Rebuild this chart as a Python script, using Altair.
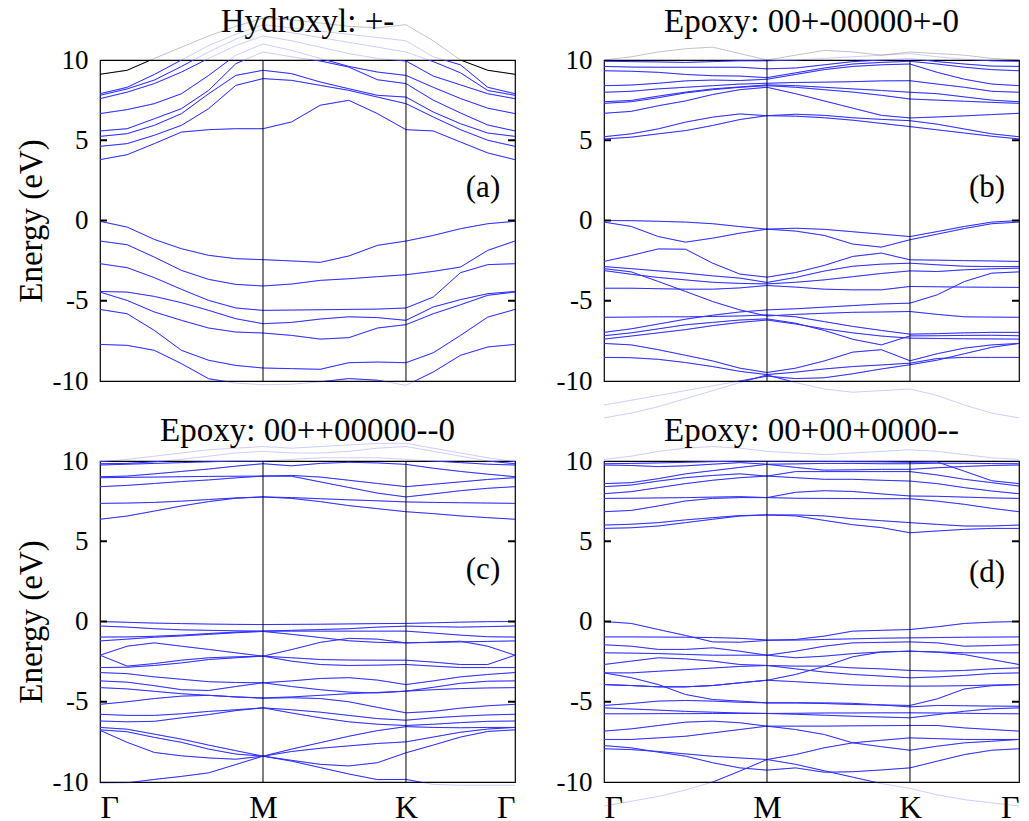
import altair as alt
import pandas as pd
import numpy as np

# ---------------- k-path ----------------
K_LABELS = ["Γ", "M", "K", "Γ"]
K_POS = [0.0, 0.3928, 0.7373, 1.0]
SEGMENTS = [6, 5, 4]          # k-point intervals on Γ-M, M-K, K-Γ
Y_TICKS = [10, 5, 0, -5, -10]
INNER_TICKS = [5, 0, -5]

# ---------------- (a) Hydroxyl: +- ----------------
A_TITLE = "Hydroxyl: +-"
A_CB = [
    [3.79, 4.10, 4.79, 5.51, 5.66, 5.72, 5.72, 6.14, 7.18, 7.49, 6.66, 5.66, 5.58, 4.89, 4.21, 3.79],
    [4.62, 4.79, 5.31, 5.93, 6.97, 8.42, 8.84, 8.73, 8.42, 8.11, 7.69, 7.28, 6.45, 5.66, 5.00, 4.62],
    [5.24, 5.41, 5.93, 6.66, 7.90, 9.04, 9.36, 9.15, 8.63, 8.21, 7.80, 7.69, 6.76, 6.03, 5.45, 5.24],
    [5.58, 5.72, 6.34, 6.97, 8.11, 9.77, 10.5, 10.2, 9.94, 9.56, 8.77, 8.53, 7.50, 6.70, 5.95, 5.58],
    [6.66, 6.91, 7.28, 7.90, 9.04, 10.3, 11.0, 10.6, 10.1, 9.60, 9.25, 9.04, 8.30, 7.60, 7.00, 6.66],
    [7.59, 8.00, 8.53, 9.25, 10.1, 10.9, 11.5, 11.2, 10.8, 10.4, 10.1, 9.94, 9.00, 8.45, 7.90, 7.59],
    [7.80, 8.20, 8.75, 9.60, 10.5, 11.3, 11.95, 11.7, 11.4, 11.1, 10.8, 10.5, 9.90, 9.20, 8.10, 7.80],
    [7.90, 8.30, 9.10, 10.0, 10.9, 11.6, 12.2, 12.0, 11.8, 11.6, 11.4, 11.2, 10.2, 9.70, 8.30, 7.90],
    [9.11, 9.36, 10.1, 10.8, 11.5, 12.1, 12.6, 12.5, 12.3, 12.1, 12.0, 12.2, 11.2, 10.0, 9.36, 9.11],
]
A_VB = [
    [-0.05, -0.41, -1.18, -1.76, -2.17, -2.38, -2.44, -2.52, -2.61, -2.21, -1.55, -1.28, -0.93, -0.51, -0.20, -0.05],
    [-1.28, -1.51, -2.28, -3.11, -3.67, -3.98, -4.08, -3.96, -3.73, -3.63, -3.50, -3.38, -3.17, -2.90, -1.86, -1.28],
    [-2.69, -2.94, -3.56, -4.29, -4.98, -5.45, -5.60, -5.58, -5.56, -5.54, -5.52, -5.45, -4.77, -3.25, -2.75, -2.69],
    [-4.42, -4.46, -4.73, -5.12, -5.60, -6.12, -6.43, -6.35, -6.14, -6.00, -6.05, -6.22, -5.39, -4.93, -4.56, -4.42],
    [-4.46, -4.98, -5.70, -6.22, -6.70, -6.95, -7.01, -7.16, -7.39, -7.30, -6.70, -6.49, -5.81, -5.25, -4.66, -4.46],
    [-5.54, -5.81, -6.85, -8.09, -8.71, -9.03, -9.19, -9.23, -9.27, -8.86, -8.82, -8.86, -8.24, -7.16, -6.02, -5.54],
    [-7.72, -7.78, -8.09, -8.92, -9.86, -10.13, -10.23, -10.2, -10.05, -9.85, -9.95, -10.27, -9.44, -8.40, -7.88, -7.72],
]
A_BLACK = [8]   # index into A_CB + A_VB drawn in black

# ---------------- (b) Epoxy: 00+-00000+-0 ----------------
B_TITLE = "Epoxy: 00+-00000+-0"
B_CB = [
    [5.08, 5.19, 5.40, 5.60, 5.92, 6.29, 6.53, 6.50, 6.40, 6.25, 6.05, 5.85, 5.65, 5.45, 5.25, 5.08],
    [5.22, 5.40, 5.71, 6.13, 6.44, 6.64, 6.53, 6.62, 6.55, 6.40, 6.30, 6.22, 6.00, 5.70, 5.40, 5.22],
    [6.68, 6.80, 7.15, 7.45, 7.85, 8.15, 8.30, 7.90, 7.45, 7.00, 6.55, 6.39, 6.45, 6.52, 6.60, 6.68],
    [7.30, 7.40, 7.65, 7.95, 8.15, 8.30, 8.40, 8.30, 8.15, 8.00, 7.80, 7.57, 7.50, 7.43, 7.36, 7.30],
    [7.40, 7.48, 7.75, 8.00, 8.20, 8.32, 8.45, 8.40, 8.30, 8.20, 8.10, 7.99, 7.90, 7.70, 7.50, 7.40],
    [7.99, 8.05, 8.20, 8.30, 8.40, 8.50, 8.55, 8.60, 8.62, 8.65, 8.70, 8.71, 8.50, 8.30, 8.05, 7.99],
    [8.40, 8.44, 8.55, 8.70, 8.75, 8.72, 8.80, 9.10, 9.40, 9.60, 9.70, 9.75, 9.23, 8.80, 8.50, 8.40],
    [9.33, 9.30, 9.23, 9.10, 9.02, 9.00, 8.90, 9.20, 9.50, 9.75, 9.85, 9.92, 9.75, 9.55, 9.40, 9.33],
    [9.60, 9.56, 9.55, 9.55, 9.55, 9.55, 9.45, 9.50, 9.70, 9.90, 10.0, 10.1, 9.90, 9.75, 9.62, 9.60],
    [9.92, 9.90, 9.88, 9.85, 9.90, 9.95, 9.95, 10.0, 10.1, 10.2, 10.3, 10.4, 10.2, 10.05, 9.95, 9.92],
    [10.0, 10.2, 10.5, 10.7, 10.8, 10.4, 10.0, 10.3, 10.6, 10.5, 10.3, 10.5, 10.4, 10.3, 10.1, 10.0],
]
B_VB = [
    [0.00, -0.01, -0.05, -0.10, -0.20, -0.38, -0.54, -0.48, -0.55, -0.70, -0.85, -1.00, -0.69, -0.37, -0.10, 0.00],
    [-0.10, -0.37, -1.00, -1.35, -1.10, -0.79, -0.54, -0.66, -0.93, -1.47, -1.66, -1.20, -0.85, -0.50, -0.20, -0.10],
    [-2.55, -2.18, -1.77, -1.79, -2.66, -3.34, -3.53, -3.24, -2.80, -2.24, -2.03, -2.45, -2.47, -2.50, -2.52, -2.55],
    [-2.87, -3.00, -3.14, -3.28, -3.45, -3.59, -3.86, -3.55, -3.15, -2.85, -2.72, -2.66, -2.76, -2.85, -2.87, -2.87],
    [-3.00, -3.20, -3.80, -4.42, -5.05, -5.57, -5.95, -5.85, -5.78, -5.72, -5.70, -5.67, -5.85, -6.00, -6.02, -6.03],
    [-3.12, -3.35, -3.55, -3.70, -3.85, -3.92, -3.95, -3.85, -3.70, -3.50, -3.30, -3.14, -3.18, -3.07, -3.01, -2.97],
    [-4.22, -4.22, -4.25, -4.28, -4.28, -4.20, -4.05, -4.15, -4.28, -4.32, -4.32, -4.11, -4.13, -4.15, -4.16, -4.17],
    [-6.03, -6.02, -6.00, -6.00, -5.98, -5.95, -5.88, -6.00, -6.30, -6.60, -6.85, -7.08, -7.05, -7.00, -6.97, -6.97],
    [-6.97, -6.75, -6.45, -6.15, -5.90, -5.70, -5.57, -5.50, -5.40, -5.30, -5.20, -5.15, -4.63, -3.80, -3.28, -3.20],
    [-7.18, -7.00, -6.75, -6.50, -6.35, -6.20, -6.13, -6.40, -6.85, -7.40, -7.75, -7.19, -7.18, -7.16, -7.15, -7.18],
    [-7.39, -7.20, -7.00, -6.80, -6.55, -6.35, -6.20, -6.45, -6.75, -7.00, -7.20, -7.33, -7.35, -7.37, -7.38, -7.39],
    [-7.66, -7.75, -8.05, -8.40, -8.75, -9.20, -9.47, -9.20, -8.75, -8.20, -8.05, -8.74, -8.30, -7.95, -7.75, -7.66],
    [-8.53, -8.55, -8.65, -8.85, -9.10, -9.40, -9.60, -9.45, -9.25, -9.10, -9.00, -8.89, -8.60, -8.53, -8.53, -8.53],
    [-11.5, -11.2, -10.9, -10.6, -10.3, -10.0, -9.70, -9.85, -9.80, -9.55, -9.25, -8.99, -8.70, -8.30, -7.90, -7.66],
    [-12.3, -12.0, -11.6, -11.1, -10.6, -10.1, -9.62, -10.1, -10.5, -10.7, -10.6, -10.5, -10.9, -11.5, -12.0, -12.3],
]
B_BLACK = [10]

# ---------------- (c) Epoxy: 00++00000--0 ----------------
C_TITLE = "Epoxy: 00++00000--0"
C_CB = [
    [6.37, 6.57, 6.88, 7.20, 7.47, 7.68, 7.76, 7.67, 7.47, 7.22, 7.03, 6.84, 6.72, 6.58, 6.47, 6.37],
    [7.36, 7.38, 7.42, 7.50, 7.60, 7.70, 7.76, 7.72, 7.65, 7.58, 7.52, 7.45, 7.42, 7.40, 7.38, 7.36],
    [8.40, 8.48, 8.60, 8.72, 8.82, 8.95, 9.06, 9.05, 8.70, 8.35, 8.00, 7.76, 7.95, 8.15, 8.30, 8.40],
    [8.96, 8.98, 9.00, 9.02, 9.04, 9.05, 9.06, 9.10, 9.00, 8.80, 8.60, 8.40, 8.55, 8.70, 8.85, 8.96],
    [9.02, 9.06, 9.20, 9.35, 9.50, 9.68, 9.83, 9.70, 9.85, 9.92, 9.88, 9.79, 9.55, 9.35, 9.18, 9.02],
    [9.75, 9.80, 9.85, 9.90, 9.95, 10.0, 10.0, 10.1, 10.2, 10.2, 10.2, 10.1, 10.0, 9.90, 9.80, 9.75],
    [9.83, 9.85, 9.95, 10.1, 10.3, 10.5, 10.6, 10.5, 10.5, 10.6, 10.8, 10.9, 10.6, 10.3, 10.0, 9.83],
    [9.96, 10.1, 10.3, 10.5, 10.7, 10.8, 10.9, 10.8, 10.9, 11.0, 11.1, 11.1, 10.8, 10.5, 10.2, 9.96],
]
C_VB = [
    [0.00, -0.05, -0.10, -0.13, -0.16, -0.18, -0.19, -0.18, -0.17, -0.15, -0.13, -0.12, -0.08, -0.04, -0.01, 0.00],
    [-0.28, -0.35, -0.45, -0.52, -0.55, -0.58, -0.60, -0.55, -0.50, -0.45, -0.35, -0.29, -0.32, -0.35, -0.32, -0.28],
    [-0.97, -0.96, -0.92, -0.85, -0.75, -0.66, -0.60, -0.60, -0.60, -0.60, -0.60, -0.60, -0.72, -0.85, -0.95, -0.97],
    [-1.21, -1.10, -0.98, -0.90, -0.80, -0.70, -0.62, -0.80, -1.00, -1.20, -1.30, -1.33, -1.30, -1.27, -1.24, -1.21],
    [-2.10, -1.54, -1.33, -1.54, -1.74, -1.95, -2.16, -1.75, -1.30, -1.05, -1.10, -1.33, -1.29, -1.23, -1.54, -2.10],
    [-2.10, -2.78, -2.62, -2.41, -2.26, -2.20, -2.16, -2.26, -2.37, -2.40, -2.41, -2.41, -2.53, -2.68, -2.68, -2.10],
    [-2.87, -2.85, -2.74, -2.58, -2.37, -2.26, -2.16, -2.47, -2.68, -2.74, -2.72, -2.68, -2.78, -2.87, -2.87, -2.87],
    [-3.18, -3.25, -3.45, -3.60, -3.75, -3.80, -3.82, -3.70, -3.55, -3.50, -3.65, -3.93, -3.70, -3.45, -3.30, -3.18],
    [-3.70, -3.78, -4.00, -4.25, -4.30, -4.05, -3.82, -4.05, -4.25, -4.40, -4.45, -4.34, -4.10, -3.85, -3.72, -3.70],
    [-4.12, -4.20, -4.35, -4.50, -4.60, -4.70, -4.76, -4.70, -4.60, -4.50, -4.42, -4.34, -4.25, -4.18, -4.14, -4.12],
    [-5.16, -5.00, -4.80, -4.65, -4.60, -4.70, -4.78, -4.75, -4.80, -5.00, -5.35, -5.69, -5.60, -5.40, -5.25, -5.16],
    [-5.78, -5.85, -5.85, -5.75, -5.60, -5.50, -5.38, -5.50, -5.65, -5.85, -6.05, -6.15, -6.00, -5.90, -5.82, -5.78],
    [-6.20, -6.25, -6.22, -6.00, -5.80, -5.55, -5.38, -5.70, -6.00, -6.25, -6.40, -6.48, -6.40, -6.30, -6.22, -6.20],
    [-6.60, -6.71, -7.02, -7.33, -7.70, -8.05, -8.39, -7.95, -7.55, -7.15, -6.80, -6.55, -6.60, -6.62, -6.60, -6.60],
    [-6.75, -6.87, -7.22, -7.53, -7.95, -8.26, -8.39, -8.70, -9.10, -9.50, -9.85, -9.84, -10.15, -10.2, -10.2, -10.2],
    [-10.09, -10.05, -9.84, -9.65, -9.43, -8.91, -8.39, -8.10, -7.90, -7.75, -7.60, -7.50, -7.20, -6.90, -6.70, -6.60],
    [-6.78, -7.53, -8.16, -8.37, -8.50, -8.58, -8.39, -8.65, -8.90, -9.00, -8.80, -8.18, -7.70, -7.20, -6.85, -6.75],
]
C_BLACK = []

# ---------------- (d) Epoxy: 00+00+0000-- ----------------
D_TITLE = "Epoxy: 00+00+0000--"
D_CB = [
    [5.80, 5.84, 5.95, 6.16, 6.37, 6.57, 6.64, 6.58, 6.30, 6.03, 5.85, 5.53, 5.64, 5.74, 5.80, 5.80],
    [6.01, 6.06, 6.16, 6.33, 6.47, 6.60, 6.64, 6.64, 6.58, 6.40, 6.28, 6.16, 6.05, 5.95, 5.95, 6.01],
    [6.84, 6.92, 7.20, 7.51, 7.67, 7.72, 7.72, 7.68, 7.67, 7.66, 7.65, 7.65, 7.50, 7.30, 7.05, 6.84],
    [7.67, 7.68, 7.70, 7.72, 7.75, 7.78, 7.72, 8.05, 8.15, 8.10, 7.95, 7.82, 7.80, 7.75, 7.70, 7.67],
    [7.96, 8.09, 8.34, 8.59, 8.80, 8.96, 9.06, 8.96, 8.86, 8.86, 8.80, 8.75, 8.59, 8.34, 8.13, 7.96],
    [8.40, 8.50, 8.75, 8.96, 9.10, 9.20, 9.06, 9.34, 9.34, 9.34, 9.34, 9.34, 9.13, 8.86, 8.65, 8.44],
    [8.59, 8.65, 8.90, 9.20, 9.40, 9.60, 9.79, 9.60, 9.43, 9.45, 9.48, 9.48, 9.58, 9.66, 9.72, 9.75],
    [9.75, 9.72, 9.65, 9.70, 9.80, 9.90, 9.80, 9.82, 9.85, 9.85, 9.83, 9.83, 9.86, 9.86, 9.84, 9.83],
    [9.83, 9.85, 9.88, 9.92, 9.96, 10.0, 10.0, 10.0, 9.98, 9.96, 9.95, 9.92, 9.94, 9.36, 8.77, 8.59],
    [10.1, 10.3, 10.6, 10.8, 10.9, 10.8, 10.6, 10.5, 10.4, 10.5, 10.6, 10.7, 10.6, 10.4, 10.2, 10.1],
]
D_VB = [
    [0.00, -0.12, -0.50, -0.87, -1.27, -1.29, -1.18, -1.12, -0.91, -0.60, -0.55, -0.50, -0.33, -0.12, -0.04, 0.00],
    [-0.96, -0.96, -0.97, -0.98, -1.00, -1.05, -1.15, -1.16, -1.12, -1.08, -1.04, -1.02, -1.00, -0.98, -0.97, -0.96],
    [-1.45, -1.54, -1.74, -1.74, -1.64, -1.85, -2.10, -1.85, -1.54, -1.33, -1.30, -1.27, -1.33, -1.54, -1.50, -1.45],
    [-1.95, -1.97, -2.00, -2.05, -2.10, -2.10, -2.10, -2.26, -2.16, -2.00, -1.90, -1.85, -1.91, -2.06, -2.37, -2.68],
    [-2.68, -2.47, -2.26, -2.33, -2.47, -2.68, -2.74, -2.78, -2.78, -2.89, -2.95, -3.05, -3.09, -3.05, -2.95, -2.89],
    [-3.20, -3.20, -3.10, -3.00, -2.90, -2.80, -2.74, -2.95, -3.15, -3.30, -3.40, -3.51, -3.45, -3.36, -3.24, -3.20],
    [-3.20, -3.50, -3.93, -4.55, -4.86, -4.96, -5.07, -5.07, -5.07, -5.10, -5.20, -5.32, -5.23, -5.25, -5.27, -5.28],
    [-3.93, -3.99, -4.07, -4.07, -3.99, -3.82, -3.66, -3.30, -2.80, -2.20, -1.90, -1.85, -1.90, -1.95, -1.95, -1.95],
    [-3.93, -3.99, -4.07, -4.07, -3.99, -3.82, -3.66, -3.75, -3.85, -3.95, -4.00, -4.03, -4.02, -4.00, -3.96, -3.93],
    [-5.23, -5.11, -4.96, -4.92, -4.96, -5.03, -5.07, -5.07, -5.11, -5.17, -5.20, -5.23, -4.82, -4.20, -4.00, -3.93],
    [-5.38, -5.45, -5.52, -5.60, -5.65, -5.70, -5.73, -5.78, -5.84, -5.90, -5.95, -6.00, -5.80, -5.59, -5.44, -5.38],
    [-5.75, -5.75, -5.74, -5.74, -5.73, -5.73, -5.73, -5.72, -5.70, -5.70, -5.69, -5.69, -5.70, -5.72, -5.74, -5.75],
    [-6.83, -6.69, -6.48, -6.27, -6.21, -6.31, -6.52, -6.52, -6.52, -6.50, -6.49, -6.48, -6.48, -6.63, -6.73, -6.83],
    [-7.35, -7.35, -7.25, -7.15, -6.94, -6.73, -6.52, -6.73, -7.04, -7.56, -7.80, -8.02, -7.77, -7.56, -7.46, -7.35],
    [-7.73, -7.87, -8.14, -8.39, -8.80, -9.12, -9.26, -9.12, -9.39, -9.36, -9.25, -9.12, -8.70, -8.29, -8.02, -7.93],
    [-7.93, -7.98, -8.10, -8.25, -8.40, -8.50, -8.60, -8.29, -7.87, -7.56, -7.40, -7.25, -7.30, -7.35, -7.35, -7.35],
    [-11.5, -11.2, -10.9, -10.5, -10.0, -9.32, -8.60, -8.90, -9.30, -9.70, -10.1, -10.4, -10.8, -11.1, -11.3, -11.5],
]
D_BLACK = []

PANELS = [
    dict(title=A_TITLE, tag="(a)", bands=A_CB + A_VB, black=A_BLACK, left=True, bottom=False),
    dict(title=B_TITLE, tag="(b)", bands=B_CB + B_VB, black=B_BLACK, left=False, bottom=False),
    dict(title=C_TITLE, tag="(c)", bands=C_CB + C_VB, black=C_BLACK, left=True, bottom=True),
    dict(title=D_TITLE, tag="(d)", bands=D_CB + D_VB, black=D_BLACK, left=False, bottom=True),
]

# k grid along the path
k_grid = [K_POS[0]]
for i, n in enumerate(SEGMENTS):
    seg = np.linspace(K_POS[i], K_POS[i + 1], n + 1)[1:]
    k_grid.extend(seg.tolist())

W, H = 415, 321
FONT = "Liberation Serif"
BLUE = "#2f2fff"
TICK_LEN = 7

label_expr = (
    f"datum.value < {(K_POS[0] + K_POS[1]) / 2} ? '{K_LABELS[0]}' : "
    f"datum.value < {(K_POS[1] + K_POS[2]) / 2} ? '{K_LABELS[1]}' : "
    f"datum.value < {(K_POS[2] + K_POS[3]) / 2} ? '{K_LABELS[2]}' : '{K_LABELS[3]}'"
)


def make_panel(p, title_dy, tag_y):
    rows = []
    for b, vals in enumerate(p["bands"]):
        col = "black" if b in p["black"] else BLUE
        for i, v in enumerate(vals):
            rows.append(dict(band=b, idx=i, k=k_grid[i], e=v, col=col))
    df = pd.DataFrame(rows)

    x_enc = alt.X(
        "k:Q",
        scale=alt.Scale(domain=[0, 1], nice=False, zero=False),
        axis=alt.Axis(
            values=K_POS, labelExpr=label_expr, labels=p["bottom"], ticks=False,
            tickSize=0, domain=False, grid=False, labelPadding=10,
            labelFontSize=32, labelFont=FONT, labelColor="black", title=None,
        ),
    )
    y_enc = alt.Y(
        "e:Q",
        scale=alt.Scale(domain=[-10, 10], nice=False, zero=False),
        axis=alt.Axis(
            values=Y_TICKS, labelExpr="'' + datum.value", ticks=False, tickSize=0,
            domain=False, grid=False,
            labelPadding=12, labelFontSize=27, labelFont=FONT, labelColor="black",
            title="Energy (eV)" if p["left"] else None,
            titleFont=FONT, titleFontSize=33, titleFontWeight="normal",
            titleColor="black", titlePadding=4,
        ),
    )
    base = alt.Chart(df)
    faint = base.mark_line(clip=False, strokeWidth=1, opacity=0.24).encode(
        x=x_enc, y=y_enc, detail="band:N", order="idx:Q",
        color=alt.Color("col:N", scale=None),
    )
    solid = base.mark_line(clip=True, strokeWidth=1.0).encode(
        x=x_enc, y=y_enc, detail="band:N", order="idx:Q",
        color=alt.Color("col:N", scale=None),
    )
    vlines = alt.Chart(pd.DataFrame({"k": K_POS[1:3]})).mark_rule(
        color="black", strokeWidth=1
    ).encode(x=x_enc)
    tick_df = pd.DataFrame({"e": INNER_TICKS})
    lt = alt.Chart(tick_df).mark_rule(color="black", strokeWidth=2).encode(
        y=y_enc, x=alt.value(0), x2=alt.value(TICK_LEN)
    )
    rt = alt.Chart(tick_df).mark_rule(color="black", strokeWidth=2).encode(
        y=y_enc, x=alt.value(W - TICK_LEN), x2=alt.value(W)
    )
    ttl = alt.Chart(pd.DataFrame({"t": [p["title"]]})).mark_text(
        font=FONT, fontSize=33, color="black", baseline="alphabetic", align="center"
    ).encode(text="t:N", x=alt.value(W / 2), y=alt.value(title_dy))
    tag = alt.Chart(pd.DataFrame({"t": [p["tag"]]})).mark_text(
        font=FONT, fontSize=31, color="black", baseline="alphabetic", align="center"
    ).encode(text="t:N", x=alt.value(383), y=alt.value(tag_y))
    return alt.layer(faint, solid, vlines, lt, rt, ttl, tag).properties(width=W, height=H)


pa = make_panel(PANELS[0], -28, 137)
pb = make_panel(PANELS[1], -28, 137)
pc = make_panel(PANELS[2], -20, 118)
pd_ = make_panel(PANELS[3], -20, 121)

chart = alt.concat(
    pa, pb, pc, pd_, columns=2, bounds="flush",
    spacing=alt.RowColnumber(row=80, column=89),
).configure_view(
    stroke="black", strokeWidth=1.2
).properties(padding={"left": 14, "top": 5, "right": 0, "bottom": 0}, background="white")

chart.save("out.html", embed_options={"renderer": "svg", "actions": False})
